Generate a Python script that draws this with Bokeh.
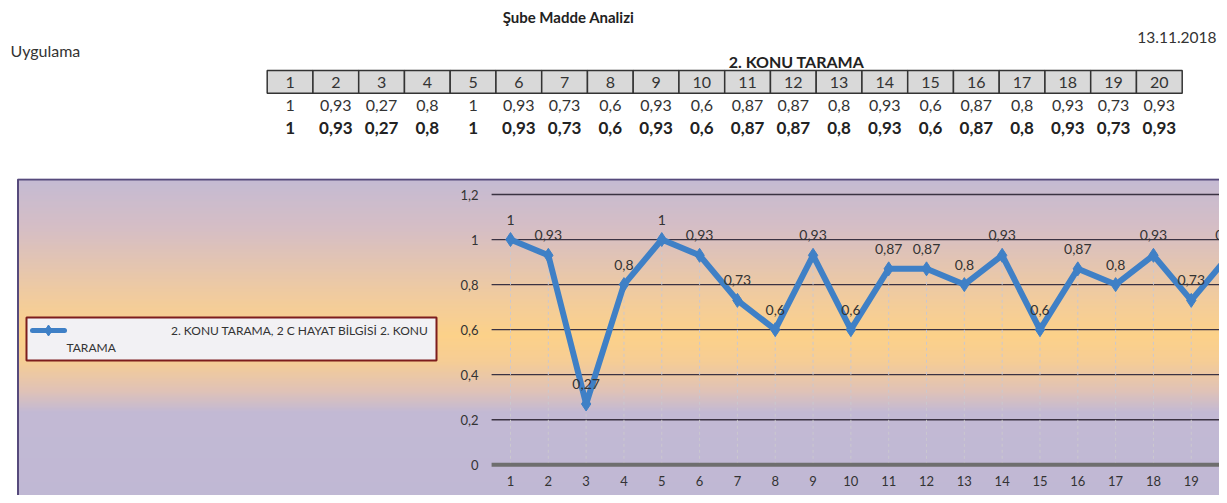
import numpy as np
from bokeh.plotting import figure
from bokeh.models import Range1d, LinearAxis, FixedTicker, CustomJSTickFormatter
from bokeh.layouts import column
from bokeh.core.properties import value
from bokeh.embed import file_html
from bokeh.resources import INLINE

# ---------------- data ----------------
questions = list(range(1, 21))
scores = [1, 0.93, 0.27, 0.8, 1, 0.93, 0.73, 0.6, 0.93, 0.6,
          0.87, 0.87, 0.8, 0.93, 0.6, 0.87, 0.8, 0.93, 0.73, 0.93]
y_ticks = [0, 0.2, 0.4, 0.6, 0.8, 1.0, 1.2]
page_title = "Şube Madde Analizi"
left_note = "Uygulama"
date_text = "13.11.2018"
table_title = "2. KONU TARAMA"
legend_line1 = "2. KONU TARAMA, 2 C HAYAT BİLGİSİ 2. KONU"
legend_line2 = "TARAMA"


def tr(v):
    return f"{v:g}".replace(".", ",")


score_labels = [tr(v) for v in scores]
FONT = value("Lato")
TXT = "#333333"
DARK = "#222222"
BLUE = "#3f80c6"

W = 1219
HH = 178
CH = 317

# ---------------- header (title + table) ----------------
COL0, COLW = 266.7, 45.75


def hx(px):
    return 0.5 + (px - COL0) / COLW


head = figure(width=W, height=HH, x_range=Range1d(hx(0), hx(W)),
              y_range=Range1d(HH, 0), output_backend="svg", toolbar_location=None,
              x_axis_location=None, y_axis_location=None, min_border=0)
head.grid.visible = False
head.outline_line_color = None
head.background_fill_color = "white"
head.border_fill_color = "white"

head.text(x=[hx(568)], y=[16], text=[page_title], text_font=FONT, text_font_style="bold",
          text_font_size="15px", text_align="center", text_baseline="middle", text_color=DARK)
head.text(x=[hx(10)], y=[50], text=[left_note], text_font=FONT,
          text_font_size="16px", text_align="left", text_baseline="middle", text_color=TXT)
head.text(x=[hx(1216)], y=[37], text=[date_text], text_font=FONT,
          text_font_size="15.5px", text_align="right", text_baseline="middle", text_color=TXT)
head.text(x=[hx(796)], y=[61], text=[table_title], text_font=FONT, text_font_style="bold",
          text_font_size="16px", text_align="center", text_baseline="middle", text_color=DARK)

head.rect(x=questions, y=81.3, width=1, height=22.7, fill_color="#d9d9d9",
          line_color="#333333", line_width=1.5)
head.text(x=questions, y=81.5, text=[str(q) for q in questions], text_font=FONT,
          text_font_size="16px", text_align="center", text_baseline="middle", text_color=TXT)
head.text(x=questions, y=105, text=score_labels, text_font=FONT,
          text_font_size="16px", text_align="center", text_baseline="middle", text_color=TXT)
head.text(x=questions, y=127.5, text=score_labels, text_font=FONT, text_font_style="bold",
          text_font_size="17px", text_align="center", text_baseline="middle", text_color=DARK)

# ---------------- chart ----------------
TOP = HH
X0, DX = 510.0, 37.82
Y0, DY = 464.3, 225.25


def cx(px):
    return 1 + (px - X0) / DX


def cy(py):
    return (Y0 - py) / DY


chart = figure(width=W, height=CH, x_range=Range1d(cx(0), cx(W)),
               y_range=Range1d(cy(TOP + CH), cy(TOP)), output_backend="svg",
               toolbar_location=None, x_axis_location=None, y_axis_location=None, min_border=0)
chart.grid.visible = False
chart.outline_line_color = None
chart.background_fill_color = "white"
chart.border_fill_color = "white"

# vertical gradient background of the chart box
stops_y = [178, 230, 300, 335, 360, 390, 412, 505]
stops_c = [(196, 186, 211), (214, 190, 196), (242, 204, 156), (252, 209, 137),
           (246, 205, 148), (224, 194, 182), (194, 185, 212), (192, 184, 212)]
band_top = np.arange(178, 502, 2.0)
band_bot = band_top + 2.4
cols = []
for yy in band_top + 1:
    rgb = [int(round(np.interp(yy, stops_y, [c[k] for c in stops_c]))) for k in range(3)]
    cols.append("#%02x%02x%02x" % tuple(rgb))
chart.quad(left=cx(17), right=cx(1260), top=[cy(t) for t in band_top],
           bottom=[cy(b) for b in band_bot], fill_color=cols, line_color=None)
chart.quad(left=[cx(17.5)], right=[cx(1260)], top=[cy(179)], bottom=[cy(499)],
           fill_color=None, line_color="#564a7c", line_width=2)

# gridlines
grid_vals = [t for t in y_ticks if t > 0]
chart.segment(x0=0.5, x1=cx(1260), y0=grid_vals, y1=grid_vals, line_color="#3a3242", line_width=1.3)
# drop lines
chart.segment(x0=questions, x1=questions, y0=0, y1=scores, line_color="#cbc8cf",
              line_width=1, line_dash="3 3")
# zero line
chart.segment(x0=[0.5], x1=[cx(1260)], y0=[0], y1=[0], line_color="#6e6e6e", line_width=4)

# series
chart.line(questions, scores, line_color=BLUE, line_width=6, line_join="round")
chart.scatter(questions, scores, marker="diamond", size=14, fill_color=BLUE, line_color=BLUE)
chart.text(x=questions, y=scores, text=score_labels, y_offset=-20, text_font=FONT,
           text_font_size="14px", text_align="center", text_baseline="middle", text_color=TXT)

# axes
fmt = CustomJSTickFormatter(code="return (Math.round(tick*10)/10).toString().replace('.', ',');")
yax = LinearAxis(fixed_location=0.5, ticker=FixedTicker(ticks=y_ticks), formatter=fmt)
xax = LinearAxis(fixed_location=0, ticker=FixedTicker(ticks=questions))
for ax in (yax, xax):
    ax.axis_line_color = None
    ax.major_tick_line_color = None
    ax.minor_tick_line_color = None
    ax.major_tick_in = 0
    ax.major_tick_out = 0
    ax.major_label_text_font = "Lato"
    ax.major_label_text_font_size = "13px"
    ax.major_label_text_color = TXT
yax.major_label_standoff = 13
xax.major_label_standoff = 11
chart.add_layout(yax, "left")
chart.add_layout(xax, "below")

# legend box
chart.quad(left=[cx(26)], right=[cx(436)], top=[cy(317)], bottom=[cy(360)],
           fill_color="#f2f1f4", line_color="#7d1d1d", line_width=2)
chart.segment(x0=[cx(32)], x1=[cx(64)], y0=[cy(330)], y1=[cy(330)], line_color=BLUE,
              line_width=5, line_cap="round")
chart.scatter(x=[cx(48)], y=[cy(330)], marker="diamond", size=11, fill_color=BLUE, line_color=BLUE)
chart.text(x=[cx(428)], y=[cy(330)], text=[legend_line1], text_font=FONT, text_font_size="12px",
           text_align="right", text_baseline="middle", text_color=TXT)
chart.text(x=[cx(66)], y=[cy(347)], text=[legend_line2], text_font=FONT, text_font_size="12px",
           text_align="left", text_baseline="middle", text_color=TXT)

layout = column(head, chart, spacing=0)
open("out.html", "w").write(file_html(layout, INLINE))
